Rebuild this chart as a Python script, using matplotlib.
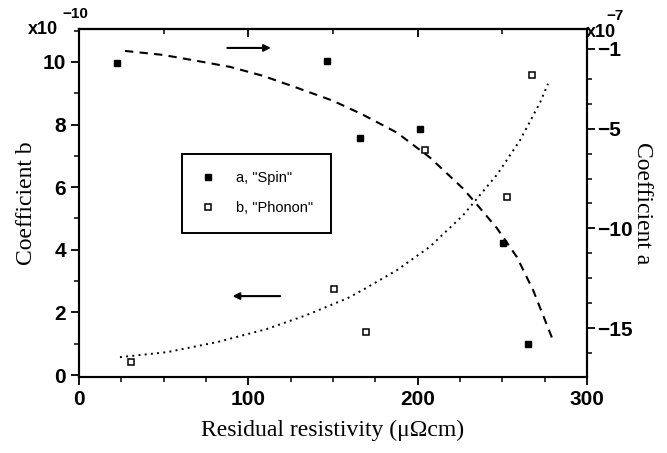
import matplotlib
matplotlib.use("Agg")
import matplotlib.pyplot as plt
from matplotlib.lines import Line2D
from matplotlib.ticker import FixedLocator, MultipleLocator

# measured points: a ("Spin") on the right axis, b ("Phonon") on the left axis
spin_x = [22.4, 146.5, 166.0, 201.4, 250.4, 265.2]
spin_a = [-1.7, -1.6, -5.45, -5.0, -10.75, -15.8]
phonon_x = [30.7, 150.6, 169.5, 204.4, 252.8, 267.6]
phonon_b = [0.42, 2.75, 1.37, 7.19, 5.69, 9.58]

# fitted curves
fit_a_x = [27.2, 49.6, 69.7, 89.2, 108.7, 128.8, 150.0, 167.7, 187.8, 207.3,
           226.8, 235.0, 246.9, 258.7, 268.2, 279.4]
fit_a_y = [-1.1, -1.3, -1.6, -1.9, -2.35, -2.95, -3.6, -4.3, -5.2, -6.45,
           -8.0, -8.8, -10.0, -11.45, -13.1, -15.5]
fit_b_x = [24.2, 52.0, 81.5, 111.0, 134.7, 158.9, 167.7, 187.8, 207.3,
           226.8, 246.9, 260.5, 272.3, 277.0]
fit_b_y = [0.57, 0.73, 1.05, 1.47, 1.92, 2.46, 2.72, 3.35, 4.1,
           5.1, 6.4, 7.5, 8.7, 9.3]

left_ticks = [0, 2, 4, 6, 8, 10]
right_ticks = [-1, -5, -10, -15]
right_labels = ["\u22121", "\u22125", "\u221210", "\u221215"]
right_minor = [-2.5, -3.75, -6.25, -7.5, -8.75, -11.25, -12.5, -13.75, -16.25]
x_ticks = [0, 100, 200, 300]

sans = "Liberation Sans"
serif = "Liberation Serif"

fig = plt.figure(figsize=(6.67, 4.53), dpi=100)
ax = fig.add_axes([0.1184, 0.168, 0.7616, 0.768])
ax2 = ax.twinx()

ax.plot(fit_b_x, fit_b_y, ls=(0, (1, 2.2)), c="black", lw=1.4)
ax.plot(phonon_x, phonon_b, "s", ms=4.5, mfc="white", mec="black", mew=1.1)
ax2.plot(fit_a_x, fit_a_y, ls=(0, (4, 3)), c="black", lw=1.5)
ax2.plot(spin_x, spin_a, "s", ms=5, mfc="black", mec="black")

ax.set_xlim(0, 300)
ax.set_ylim(-0.06, 11.05)
ax2.set_ylim(-17.45, 0)

ax.set_xticks(x_ticks)
ax.xaxis.set_minor_locator(MultipleLocator(25))
ax.set_yticks(left_ticks)
ax.yaxis.set_minor_locator(MultipleLocator(1))
ax2.set_yticks(right_ticks)
ax2.set_yticklabels(right_labels)
ax2.yaxis.set_minor_locator(FixedLocator(right_minor))

for a_ in (ax, ax2):
    for s in a_.spines.values():
        s.set_linewidth(1.5)
ax.tick_params(axis="both", which="major", direction="out", length=6, width=1.3,
               labelsize=15)
ax.tick_params(axis="both", which="minor", direction="out", length=3.5, width=1.1)
ax2.tick_params(axis="y", which="major", direction="out", length=6, width=1.3,
                labelsize=15, pad=1)
ax2.tick_params(axis="y", which="minor", direction="out", length=3.5, width=1.1)
for lab in ax.get_xticklabels() + ax.get_yticklabels() + ax2.get_yticklabels():
    lab.set_fontfamily(sans)
    lab.set_fontweight("bold")

# top axis ticks pointing inwards
top = ax.secondary_xaxis("top")
top.set_xticks([100, 200])
top.xaxis.set_minor_locator(FixedLocator([50, 150, 250]))
top.tick_params(which="major", direction="in", length=6, width=1.3, labeltop=False)
top.tick_params(which="minor", direction="in", length=3.5, width=1.1)
top.spines["top"].set_linewidth(1.5)

ax.set_xlabel("Residual resistivity (\u03bc\u03a9cm)", fontfamily=serif,
              fontsize=17, labelpad=8)
ax.set_ylabel("Coefficient b", fontfamily=serif, fontsize=17, labelpad=4)
ax2.set_ylabel("Coefficient a", fontfamily=serif, fontsize=17, rotation=270,
               labelpad=15)

# multipliers
fig.text(0.042, 0.925, "x10", fontfamily=sans, fontweight="bold", fontsize=13,
         va="baseline")
fig.text(0.094, 0.96, "\u221210", fontfamily=sans, fontweight="bold", fontsize=11,
         va="baseline")
fig.text(0.878, 0.918, "x10", fontfamily=sans, fontweight="bold", fontsize=13,
         va="baseline")
fig.text(0.909, 0.956, "\u22127", fontfamily=sans, fontweight="bold", fontsize=11,
         va="baseline")

# arrows showing which axis each curve belongs to
ax2.annotate("", xy=(115, -0.95), xytext=(86, -0.95),
             arrowprops=dict(arrowstyle="-|>", color="black", lw=1.5,
                             mutation_scale=10))
ax.annotate("", xy=(89, 2.52), xytext=(120.5, 2.52),
            arrowprops=dict(arrowstyle="-|>", color="black", lw=1.5,
                            mutation_scale=10))

handles = [
    Line2D([], [], ls="none", marker="s", ms=5, mfc="black", mec="black"),
    Line2D([], [], ls="none", marker="s", ms=4.5, mfc="white", mec="black", mew=1.1),
]
leg = ax2.legend(handles, ['a, "Spin"', 'b, "Phonon"'], loc="upper left",
                 bbox_to_anchor=(0.203, 0.641), borderaxespad=0, fancybox=False,
                 edgecolor="black", framealpha=1, prop={"family": sans, "size": 10.5},
                 borderpad=1.2, labelspacing=1.1, handletextpad=1.3,
                 handlelength=1.2)
leg.get_frame().set_linewidth(1.4)

fig.savefig("out.png", dpi=100)
